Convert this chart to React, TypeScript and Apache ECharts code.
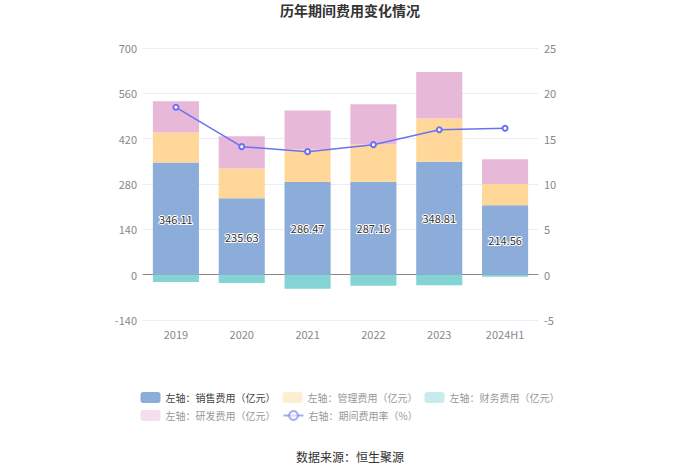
import React, { useEffect, useRef } from "react";
import * as echarts from "echarts";

const categories = ["2019", "2020", "2021", "2022", "2023", "2024H1"];
const salesExpense = [346.11, 235.63, 286.47, 287.16, 348.81, 214.56];
const adminExpense = [92.6, 91.9, 100.0, 114.5, 133.2, 65.6];
const financeExpense = [-22.7, -25.7, -43.3, -34.0, -33.0, -6.2];
const rdExpense = [96.8, 99.9, 120.7, 124.7, 144.2, 76.2];
const expenseRate = [18.46, 14.12, 13.57, 14.34, 15.99, 16.14];

const leftTicks = { min: -140, max: 700, interval: 140 };
const rightTicks = { min: -5, max: 25, interval: 5 };

const FONT = "'Microsoft YaHei', 'Noto Sans CJK SC', sans-serif";

export default function App() {
  const ref = useRef<HTMLDivElement>(null);
  useEffect(() => {
    if (!ref.current) return;
    const chart = echarts.init(ref.current, undefined, { renderer: "svg" });
    const names = [
      "左轴：销售费用（亿元）",
      "左轴：管理费用（亿元）",
      "左轴：财务费用（亿元）",
      "左轴：研发费用（亿元）",
      "右轴：期间费用率（%）",
    ];
    chart.setOption({
      animation: false,
      textStyle: { fontFamily: FONT },
      title: {
        text: "历年期间费用变化情况",
        left: "center",
        top: 0,
        padding: [3, 5],
        textStyle: { fontSize: 14, fontWeight: "bold", color: "#333", fontFamily: FONT },
      },
      color: ["#8CACD9", "#FFD899", "#84D4D6", "#E8B8D9", "#6B72F2"],
      grid: { left: 143, right: 162, top: 48, bottom: 154 },
      legend: {
        left: "center",
        top: 387,
        width: 430,
        itemWidth: 20,
        itemHeight: 11,
        itemGap: 7,
        textStyle: { fontSize: 10, color: "#999", fontFamily: FONT },
        data: [
          { name: names[0], textStyle: { color: "#444" } },
          { name: names[1], itemStyle: { opacity: 0.45 } },
          { name: names[2], itemStyle: { opacity: 0.45 } },
          { name: names[3], itemStyle: { opacity: 0.45 } },
          { name: names[4], itemStyle: { opacity: 0.6 }, lineStyle: { opacity: 0.6 } },
        ],
      },
      xAxis: {
        type: "category",
        data: categories,
        axisLine: { onZero: true, lineStyle: { color: "#888" } },
        axisTick: { alignWithLabel: true, length: 4, lineStyle: { color: "#888" } },
        axisLabel: { color: "#888", fontSize: 11, margin: 8 },
      },
      yAxis: [
        {
          type: "value",
          ...leftTicks,
          axisLabel: { color: "#888", fontSize: 11, margin: 6 },
          axisLine: { show: false },
          axisTick: { show: false },
          splitLine: { lineStyle: { color: "#E8ECF4" } },
        },
        {
          type: "value",
          ...rightTicks,
          axisLabel: { color: "#888", fontSize: 11, margin: 6 },
          axisLine: { show: false },
          axisTick: { show: false },
          splitLine: { show: false },
        },
      ],
      series: [
        {
          name: names[0],
          type: "bar",
          stack: "total",
          barWidth: "70%",
          data: salesExpense,
          label: {
            show: true,
            position: "inside",
            color: "#333",
            fontSize: 11,
            textBorderColor: "#fff",
            textBorderWidth: 2,
          },
        },
        { name: names[1], type: "bar", stack: "total", data: adminExpense },
        { name: names[2], type: "bar", stack: "total", data: financeExpense },
        { name: names[3], type: "bar", stack: "total", data: rdExpense },
        {
          name: names[4],
          type: "line",
          yAxisIndex: 1,
          data: expenseRate,
          symbol: "emptyCircle",
          symbolSize: 5,
          lineStyle: { width: 1.5 },
          z: 5,
        },
      ],
      graphic: [
        {
          type: "text",
          left: "center",
          top: 450,
          style: { text: "数据来源：恒生聚源", fontSize: 12, fill: "#333", fontFamily: FONT },
        },
      ],
    });
    return () => chart.dispose();
  }, []);
  return <div ref={ref} style={{ position: "absolute", left: 0, top: 0, width: 700, height: 474 }} />;
}
